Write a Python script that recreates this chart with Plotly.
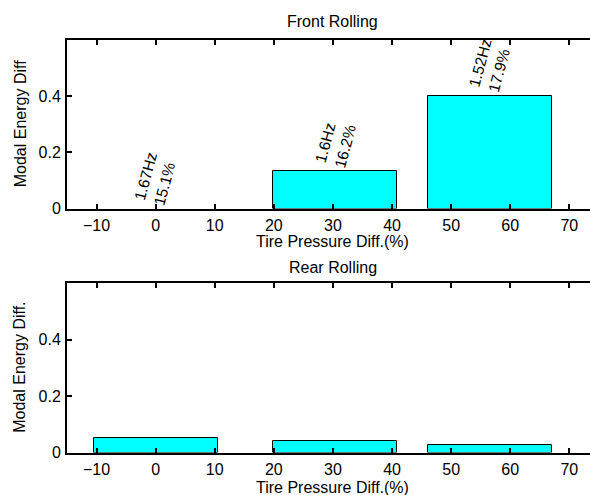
import plotly.graph_objects as go

# ---- data ----
pressure_diff = [0, 30.4, 56.6]
front_energy = [0.0, 0.135, 0.402]
rear_energy = [0.053, 0.040, 0.027]
front_labels = ["1.67Hz<br>15.1%", "1.6Hz<br>16.2%", "1.52Hz<br>17.9%"]
x_ticks = [-10, 0, 10, 20, 30, 40, 50, 60, 70]
y_ticks = [0, 0.2, 0.4]

W, H = 590, 495
FONT = "Liberation Sans, Arial, sans-serif"
FS = 16
LFS = 15.5
BAR_W = 21

fig = go.Figure()
fig.add_trace(go.Bar(x=pressure_diff, y=front_energy, width=BAR_W,
                     marker=dict(color="#00FFFF",
                                 line=dict(color="black", width=[0 if v == 0 else 1 for v in front_energy])),
                     xaxis="x", yaxis="y", showlegend=False))
fig.add_trace(go.Bar(x=pressure_diff, y=rear_energy, width=BAR_W,
                     marker=dict(color="#00FFFF", line=dict(color="black", width=1)),
                     xaxis="x2", yaxis="y2", showlegend=False))

xdom = [67 / W, 1.0]
top_dom = [(H - 208.5) / H, (H - 40) / H]
bot_dom = [(H - 452.5) / H, (H - 283) / H]

axis_common = dict(showline=True, linecolor="black", linewidth=2,
                   ticks="inside", ticklen=5, tickwidth=2, tickcolor="black",
                   showgrid=False, zeroline=False, automargin=False,
                   tickfont=dict(family=FONT, size=FS, color="black"))

fig.update_layout(
    width=W, height=H,
    margin=dict(l=0, r=0, t=0, b=0, pad=0, autoexpand=False),
    paper_bgcolor="white", plot_bgcolor="white",
    font=dict(family=FONT, size=FS, color="black"),
    bargap=0,
    xaxis=dict(domain=xdom, range=[-15, 73.5], tickvals=x_ticks, anchor="y",
               mirror="ticks", ticklabelstandoff=1, **axis_common),
    yaxis=dict(domain=top_dom, range=[0, 0.6], tickvals=y_ticks, anchor="x",
               mirror=False, ticklabelstandoff=1, **axis_common),
    xaxis2=dict(domain=xdom, range=[-15, 73.5], tickvals=x_ticks, anchor="y2",
                mirror="ticks", ticklabelstandoff=1, **axis_common),
    yaxis2=dict(domain=bot_dom, range=[0, 0.6], tickvals=y_ticks, anchor="x2",
                mirror=False, ticklabelstandoff=1, **axis_common),
)

ann = []
# titles
ann.append(dict(text="Front Rolling", xref="x", yref="paper", x=30, y=1 - 22 / H,
                xanchor="center", yanchor="middle", showarrow=False))
ann.append(dict(text="Rear Rolling", xref="x2", yref="paper", x=30, y=1 - 267 / H,
                xanchor="center", yanchor="middle", showarrow=False))
# x titles
ann.append(dict(text="Tire Pressure Diff.(%)", xref="x", yref="paper", x=30, y=1 - 241 / H,
                xanchor="center", yanchor="middle", showarrow=False))
ann.append(dict(text="Tire Pressure Diff.(%)", xref="x2", yref="paper", x=30, y=1 - 487 / H,
                xanchor="center", yanchor="middle", showarrow=False))
# y titles
ann.append(dict(text="Modal Energy Diff", xref="paper", yref="y domain", x=20 / W, y=0.5,
                xanchor="center", yanchor="middle", textangle=-90, showarrow=False))
ann.append(dict(text="Modal Energy Diff.", xref="paper", yref="y2 domain", x=20 / W, y=0.5,
                xanchor="center", yanchor="middle", textangle=-90, showarrow=False))
# bar labels
for xv, yv, lab in zip(pressure_diff, front_energy, front_labels):
    ann.append(dict(text=lab, xref="x", yref="y", x=xv, y=yv, textangle=-75,
                    font=dict(size=LFS),
                    xanchor="center", yanchor="bottom", align="left", showarrow=False,
                    borderpad=0))
fig.update_layout(annotations=ann)

fig.write_html("out.html", config={"displayModeBar": False},
               post_script="document.body.style.margin='0';document.body.style.overflow='hidden';")
